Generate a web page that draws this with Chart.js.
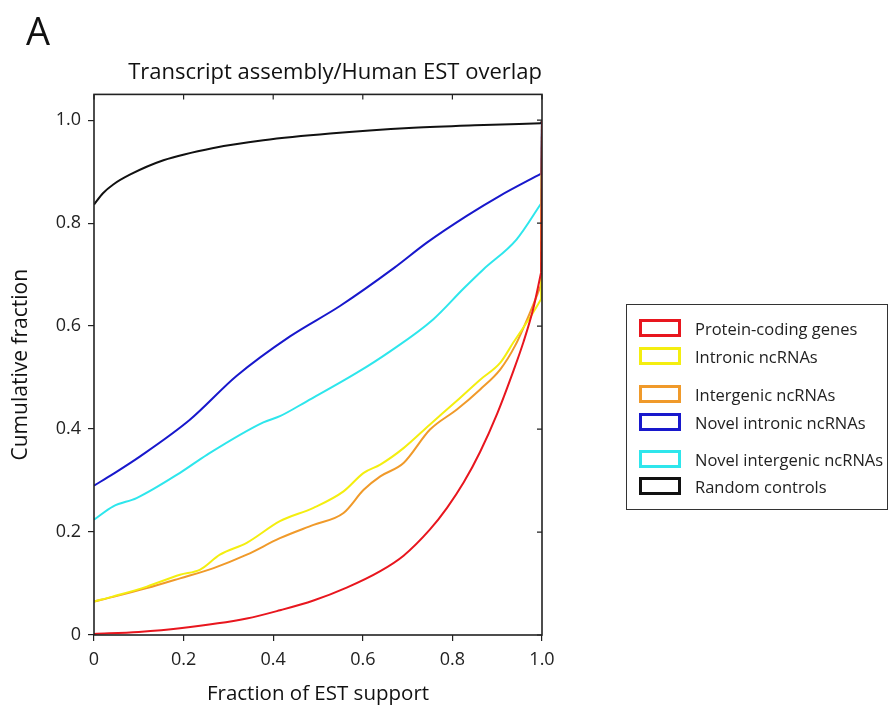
<!DOCTYPE html>
<html>
<head>
<meta charset="utf-8">
<script src="https://cdn.jsdelivr.net/npm/chart.js@4.4.1/dist/chart.umd.min.js"></script>
<style>
  body { margin: 0; background: #fff; font-family: "Open Sans", sans-serif; }
  #wrap { position: relative; width: 892px; height: 715px; }
  #chart { position: absolute; left: 0; top: 0; }
  #legend { position: absolute; left: 626px; top: 304px; width: 262px; height: 206px;
            border: 1px solid #333; box-sizing: border-box; }
  .item { position: absolute; left: 12px; height: 20px; display: flex; align-items: center;
          font-size: 16.5px; color: #222; white-space: nowrap; }
  .swatch { width: 36px; height: 12px; border: 3px solid; margin-right: 14px; }
</style>
</head>
<body>
<div id="wrap">
  <canvas id="chart" width="892" height="715"></canvas>
  <div id="legend"></div>
</div>
<script>
// nama seri dan warnanya
const seriesNames = ['Protein-coding genes', 'Intronic ncRNAs', 'Intergenic ncRNAs',
                     'Novel intronic ncRNAs', 'Novel intergenic ncRNAs', 'Random controls'];
const seriesColors = ['#e8161e', '#f4ee10', '#f09a2a', '#1818cc', '#2ee6ec', '#111111'];

// nilai (x = fraction of EST support, y = cumulative fraction)
const redX = [0, 0.1, 0.192, 0.341, 0.415, 0.49, 0.564, 0.639, 0.691, 0.75, 0.788, 0.825, 0.862, 0.9, 0.937, 0.959, 0.98, 0.998, 1];
const redY = [0.002, 0.006, 0.013, 0.032, 0.048, 0.067, 0.092, 0.124, 0.154, 0.205, 0.247, 0.296, 0.356, 0.43, 0.515, 0.57, 0.632, 0.704, 1.0];

const yellowX = [0, 0.043, 0.118, 0.192, 0.237, 0.281, 0.341, 0.415, 0.49, 0.557, 0.602, 0.639, 0.691, 0.75, 0.81, 0.862, 0.907, 0.936, 0.98, 0.998, 1];
const yellowY = [0.065, 0.075, 0.094, 0.117, 0.127, 0.156, 0.179, 0.221, 0.247, 0.279, 0.315, 0.331, 0.363, 0.409, 0.455, 0.496, 0.529, 0.568, 0.626, 0.652, 1.0];

const orangeX = [0, 0.043, 0.118, 0.192, 0.267, 0.341, 0.415, 0.49, 0.557, 0.602, 0.639, 0.691, 0.75, 0.81, 0.862, 0.907, 0.94, 0.975, 0.998, 1];
const orangeY = [0.065, 0.074, 0.091, 0.11, 0.13, 0.156, 0.188, 0.214, 0.237, 0.282, 0.308, 0.334, 0.399, 0.438, 0.477, 0.516, 0.562, 0.63, 0.68, 1.0];

const blueX = [0, 0.043, 0.103, 0.214, 0.318, 0.4375, 0.549, 0.67, 0.743, 0.832, 0.906, 0.998, 1];
const blueY = [0.29, 0.313, 0.347, 0.418, 0.503, 0.58, 0.639, 0.713, 0.762, 0.814, 0.853, 0.896, 1.0];

const cyanX = [0, 0.043, 0.095, 0.192, 0.252, 0.378, 0.415, 0.475, 0.586, 0.661, 0.757, 0.825, 0.869, 0.943, 0.998, 1];
const cyanY = [0.224, 0.25, 0.266, 0.315, 0.35, 0.413, 0.425, 0.454, 0.509, 0.551, 0.613, 0.673, 0.71, 0.768, 0.838, 1.0];

const blackX = [0, 0.02, 0.043, 0.08, 0.155, 0.267, 0.378, 0.527, 0.713, 0.85, 0.998, 1];
const blackY = [0.836, 0.858, 0.875, 0.894, 0.922, 0.946, 0.961, 0.974, 0.985, 0.99, 0.994, 1.0];

// label sumbu
const xTicks = [0, 0.2, 0.4, 0.6, 0.8, 1.0];
const yTicks = [0, 0.2, 0.4, 0.6, 0.8, 1.0];

const allX = [redX, yellowX, orangeX, blueX, cyanX, blackX];
const allY = [redY, yellowY, orangeY, blueY, cyanY, blackY];

const tickText = v => v === 0 ? '0' : v.toFixed(1);

// bingkai, tick cermin di dalam, dan huruf "A"
const framePlugin = {
    id: 'frame',
    afterDraw(chart) {
        const c = chart.ctx, a = chart.chartArea;
        const sx = chart.scales.x, sy = chart.scales.y;
        c.save();
        c.strokeStyle = '#222';
        c.lineWidth = 1.6;
        c.strokeRect(a.left, a.top, a.right - a.left, a.bottom - a.top);
        c.lineWidth = 1.2;
        c.beginPath();
        xTicks.forEach(v => {
            const px = sx.getPixelForValue(v);
            c.moveTo(px, a.top); c.lineTo(px, a.top + 5);
        });
        yTicks.forEach(v => {
            const py = sy.getPixelForValue(v);
            c.moveTo(a.right, py); c.lineTo(a.right - 5, py);
        });
        c.stroke();
        c.fillStyle = '#111';
        c.font = '38px "Open Sans"';
        c.textBaseline = 'alphabetic';
        c.fillText('A', 26, 45);
        c.restore();
    }
};

// kurva halus sampai titik sebelum terakhir, lalu loncatan lurus ke 1.0 di tepi kanan
const datasets = [];
seriesNames.forEach((name, i) => {
    const pts = allX[i].map((x, j) => ({ x: x, y: allY[i][j] }));
    datasets.push({
        label: name,
        data: pts.slice(0, -1),
        borderColor: seriesColors[i],
        borderWidth: 2,
        pointRadius: 0,
        fill: false,
        cubicInterpolationMode: 'monotone'
    });
    datasets.push({
        label: name + ' (edge)',
        data: pts.slice(-2),
        borderColor: seriesColors[i],
        borderWidth: 2,
        pointRadius: 0,
        fill: false,
        tension: 0
    });
});

new Chart(document.getElementById('chart'), {
    type: 'line',
    data: { datasets: datasets },
    options: {
        responsive: false,
        animation: false,
        devicePixelRatio: 1,
        layout: { padding: { left: 0, right: 350, top: 0, bottom: 0 } },
        plugins: {
            legend: { display: false },
            tooltip: { enabled: false },
            title: {
                display: true,
                text: 'Transcript assembly/Human EST overlap',
                align: 'end',
                color: '#111',
                font: { family: '"Open Sans"', size: 22, weight: 'normal' },
                padding: { top: 60, bottom: 8 }
            }
        },
        scales: {
            x: {
                type: 'linear', min: 0, max: 1,
                afterBuildTicks: s => { s.ticks = xTicks.map(v => ({ value: v })); },
                afterFit: s => { s.height = 80; },
                ticks: { callback: tickText, color: '#222', padding: 8,
                         font: { family: '"Open Sans"', size: 18 }, maxRotation: 0 },
                grid: { drawOnChartArea: false, tickLength: 6, color: '#222', lineWidth: 1.2 },
                border: { display: false },
                title: { display: true, text: 'Fraction of EST support', color: '#111',
                         font: { family: '"Open Sans"', size: 20.5 }, padding: { top: 0, bottom: 9 } }
            },
            y: {
                type: 'linear', min: 0, max: 1.05,
                afterBuildTicks: s => { s.ticks = yTicks.map(v => ({ value: v })); },
                afterFit: s => { s.width = 94; },
                ticks: { callback: tickText, color: '#222', padding: 7,
                         font: { family: '"Open Sans"', size: 18 } },
                grid: { drawOnChartArea: false, tickLength: 6, color: '#222', lineWidth: 1.2 },
                border: { display: false },
                title: { display: true, text: 'Cumulative fraction', color: '#111',
                         font: { family: '"Open Sans"', size: 21 }, padding: { top: 8, bottom: 0 } }
            }
        }
    },
    plugins: [framePlugin]
});

// legenda HTML
const legendTops = [13, 41, 79, 107, 144, 171];
const legend = document.getElementById('legend');
seriesNames.forEach((name, i) => {
    const item = document.createElement('div');
    item.className = 'item';
    item.style.top = legendTops[i] + 'px';
    item.innerHTML = '<span class="swatch" style="border-color:' + seriesColors[i] + '"></span>' + name;
    legend.appendChild(item);
});
</script>
</body>
</html>
